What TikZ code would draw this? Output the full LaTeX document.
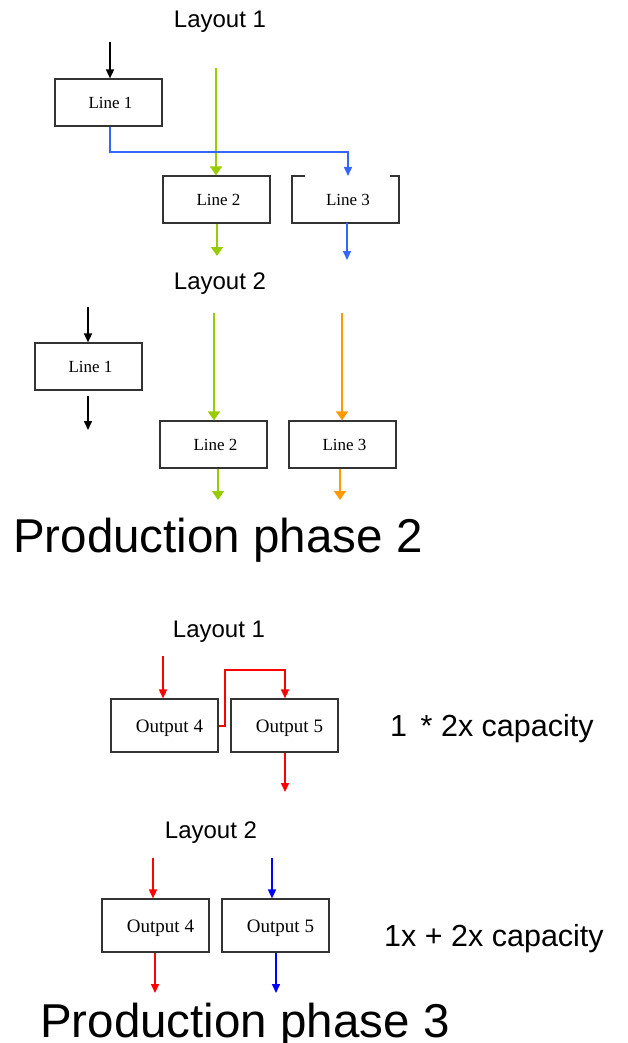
\documentclass[tikz,border=0pt]{standalone}
\usepackage{fontspec}
\setmainfont{Liberation Serif}
\newfontfamily\hv{Liberation Sans}
\usetikzlibrary{arrows.meta}
\definecolor{lgreen}{HTML}{99CC00}
\definecolor{lblue}{HTML}{3366FF}
\definecolor{lorange}{HTML}{FF9900}
\definecolor{pblue}{HTML}{0000FF}
\definecolor{pred}{HTML}{FF0000}
\tikzset{
  linebox/.style={draw=black!80, line width=1.2pt, minimum width=107pt, minimum height=47pt,
    inner sep=0pt, font=\fontsize{17}{17}\selectfont},
  outbox/.style={linebox, minimum height=53pt, text height=13pt, text depth=0pt,
    font=\fontsize{19}{19}\selectfont},
  flow/.style={line width=1.5pt, -{Triangle[width=8pt,length=9pt]}},
  wideflow/.style={line width=1.5pt, -{Triangle[width=12pt,length=9pt]}},
  title/.style={font=\hv\fontsize{24}{24}\selectfont, anchor=base, inner sep=0pt},
  phase/.style={font=\hv\fontsize{47.5}{47.5}\selectfont, anchor=base west, inner sep=0pt},
  capa/.style={font=\hv\fontsize{30.5}{30.5}\selectfont, anchor=base west, inner sep=0pt}
}
\begin{document}
\begin{tikzpicture}[x=1pt, y=-1pt]
\useasboundingbox (0,0) rectangle (628,1043);

% ---------- Production phase 2, layout 1 ----------
\node[title] (t1) at (220,28) {Layout 1};
\node[linebox] (a1) at (108.5,102.5) {\hspace{4pt}Line 1};
\node[linebox] (a2) at (216.5,199.5) {\hspace{4pt}Line 2};
\node[linebox, draw=none, outer sep=0pt] (a3) at (345.5,199.5) {\hspace{5pt}Line 3};
\draw[draw=black!80, line width=1.2pt] ([xshift=13pt]a3.north west) -- (a3.north west)
  -- (a3.south west) -- (a3.south east) -- (a3.north east) -- ([xshift=-9pt]a3.north east);
\coordinate (a1in) at (110,42);
\coordinate (a2in) at (216,68);
\coordinate (a2out) at (217,256);
\coordinate (a3out) at (347,260);
\coordinate (bend1) at (110,152);
\coordinate (bend2) at (348,152);
\draw[flow, black] (a1in) -- (a1in |- a1.north);
\draw[wideflow, lgreen] (a2in) -- (a2in |- a2.north);
\draw[flow, lblue] (bend1 |- a1.south) -- (bend1) -- (bend2) -- (bend2 |- a3.north);
\draw[wideflow, lgreen] (a2out |- a2.south) -- (a2out);
\draw[flow, lblue] (a3out |- a3.south) -- (a3out);

% ---------- Production phase 2, layout 2 ----------
\node[title] (t2) at (220,289) {Layout 2};
\node[linebox] (b1) at (88.5,366.5) {\hspace{4pt}Line 1};
\node[linebox] (b2) at (213.5,444.5) {\hspace{4pt}Line 2};
\node[linebox] (b3) at (342.5,444.5) {\hspace{4pt}Line 3};
\coordinate (b1in) at (88,307);
\coordinate (b1s) at (88,396);
\coordinate (b1out) at (88,430);
\coordinate (b2in) at (214,313);
\coordinate (b2out) at (218,500);
\coordinate (b3in) at (342,313);
\coordinate (b3out) at (340,500);
\draw[flow, black] (b1in) -- (b1in |- b1.north);
\draw[flow, black] (b1s) -- (b1out);
\draw[wideflow, lgreen] (b2in) -- (b2in |- b2.north);
\draw[wideflow, lorange] (b3in) -- (b3in |- b3.north);
\draw[wideflow, lgreen] (b2out |- b2.south) -- (b2out);
\draw[wideflow, lorange] (b3out |- b3.south) -- (b3out);

\node[phase] (p2) at (13,552) {Production phase 2};

% ---------- Production phase 3, layout 1 ----------
\node[title] (t3) at (219,637) {Layout 1};
\node[outbox] (c4) at (164.5,725.5) {\hspace{10pt}Output 4};
\node[outbox] (c5) at (284.5,725.5) {\hspace{10pt}Output 5};
\coordinate (c4in) at (163,656);
\coordinate (h1) at (225,726);
\coordinate (h2) at (225,670);
\coordinate (h3) at (285,670);
\coordinate (c5out) at (285,792);
\draw[flow, pred] (c4in) -- (c4in |- c4.north);
\draw[flow, pred] (c4.east |- h1) -- (h1) -- (h2) -- (h3) -- (h3 |- c5.north);
\draw[flow, pred] (c5out |- c5.south) -- (c5out);
\node[capa] (k1) at (390,736) {1 \,* 2x capacity};

% ---------- Production phase 3, layout 2 ----------
\node[title] (t4) at (211,838) {Layout 2};
\node[outbox] (d4) at (155.5,925.5) {\hspace{10pt}Output 4};
\node[outbox] (d5) at (275.5,925.5) {\hspace{10pt}Output 5};
\coordinate (d4in) at (153,858);
\coordinate (d5in) at (272,858);
\coordinate (d4out) at (155,993);
\coordinate (d5out) at (276,993);
\draw[flow, pred] (d4in) -- (d4in |- d4.north);
\draw[flow, pblue] (d5in) -- (d5in |- d5.north);
\draw[flow, pred] (d4out |- d4.south) -- (d4out);
\draw[flow, pblue] (d5out |- d5.south) -- (d5out);
\node[capa] (k2) at (384,946) {1x + 2x capacity};

\node[phase] (p3) at (40,1037) {Production phase 3};
\end{tikzpicture}
\end{document}
